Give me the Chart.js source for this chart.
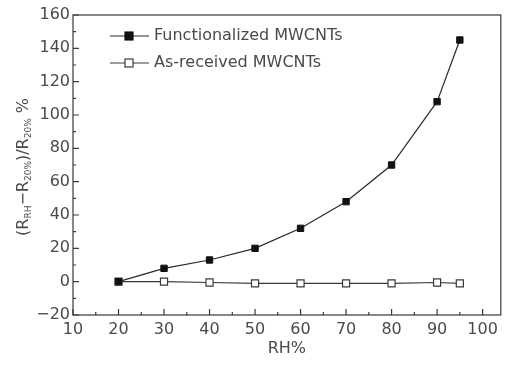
<!DOCTYPE html>
<html>
<head>
<meta charset="utf-8">
<script src="https://cdn.jsdelivr.net/npm/chart.js@4"></script>
<style>
  html, body { margin: 0; padding: 0; background: #fff; }
  #wrap { width: 507px; height: 365px; }
</style>
</head>
<body>
<div id="wrap"><canvas id="chart" width="507" height="365"></canvas></div>
<script>
// data
const rhValues = [20, 30, 40, 50, 60, 70, 80, 90, 95];
const functionalized = [0, 8, 13, 20, 32, 48, 70, 108, 145];
const asReceived = [0, 0, -0.5, -1, -1, -1, -1, -0.5, -1];
const xTicks = [10, 20, 30, 40, 50, 60, 70, 80, 90, 100];
const yTicks = [-20, 0, 20, 40, 60, 80, 100, 120, 140, 160];
const seriesNames = ["Functionalized MWCNTs", "As-received MWCNTs"];

const FONT = "'DejaVu Sans', sans-serif";
const TEXT = "#4a4a4a";
const AXIS = "#3a3a3a";

// frame, inside ticks, legend and axis titles
const extras = {
  id: "extras",
  afterDraw(chart) {
    const { ctx, chartArea: a, scales } = chart;
    const xs = scales.x, ys = scales.y;
    ctx.save();
    ctx.strokeStyle = AXIS;
    ctx.lineWidth = 1.2;
    ctx.strokeRect(a.left, a.top, a.right - a.left, a.bottom - a.top);

    // x ticks (major 10, minor 5), pointing up
    ctx.beginPath();
    for (let v = 10; v <= 100; v += 5) {
      const px = xs.getPixelForValue(v);
      const len = v % 10 === 0 ? 6 : 3;
      ctx.moveTo(px, a.bottom);
      ctx.lineTo(px, a.bottom - len);
    }
    // y ticks (major 20, minor 10), pointing right
    for (let v = -20; v <= 160; v += 10) {
      const py = ys.getPixelForValue(v);
      const len = v % 20 === 0 ? 6 : 3;
      ctx.moveTo(a.left, py);
      ctx.lineTo(a.left + len, py);
    }
    ctx.stroke();

    // legend
    chart.data.datasets.forEach((ds, i) => {
      const y = 36 + i * 27;
      ctx.strokeStyle = ds.borderColor;
      ctx.lineWidth = 1.2;
      ctx.beginPath();
      ctx.moveTo(110, y);
      ctx.lineTo(149, y);
      ctx.stroke();
      ctx.fillStyle = ds.pointBackgroundColor;
      ctx.strokeStyle = ds.pointBorderColor;
      ctx.fillRect(125, y - 4, 8, 8);
      ctx.strokeRect(125, y - 4, 8, 8);
      ctx.fillStyle = TEXT;
      ctx.font = "16px " + FONT;
      ctx.textBaseline = "middle";
      ctx.textAlign = "left";
      ctx.fillText(ds.label, 154, y);
    });

    // x title
    ctx.fillStyle = TEXT;
    ctx.font = "16px " + FONT;
    ctx.textAlign = "center";
    ctx.textBaseline = "middle";
    ctx.fillText("RH%", (a.left + a.right) / 2, 349);

    // y title with subscripts
    const parts = [
      ["(R", false], ["RH", true], ["\u2212R", false], ["20%", true],
      [")/R", false], ["20%", true], [" %", false]
    ];
    const big = "16px " + FONT, small = "9px " + FONT;
    let total = 0;
    parts.forEach(([t, sub]) => { ctx.font = sub ? small : big; total += ctx.measureText(t).width; });
    ctx.translate(22, (a.top + a.bottom) / 2 + 2);
    ctx.rotate(-Math.PI / 2);
    ctx.textAlign = "left";
    ctx.textBaseline = "alphabetic";
    let x = -total / 2;
    parts.forEach(([t, sub]) => {
      ctx.font = sub ? small : big;
      ctx.fillText(t, x, sub ? 9 : 6);
      x += ctx.measureText(t).width;
    });
    ctx.restore();
  }
};

const toPoints = ys => rhValues.map((x, i) => ({ x, y: ys[i] }));

new Chart(document.getElementById("chart"), {
  type: "line",
  data: {
    datasets: [
      {
        label: seriesNames[0],
        data: toPoints(functionalized),
        borderColor: "#2a2a2a",
        borderWidth: 1.2,
        pointStyle: "rect",
        pointRadius: 4.5,
        pointBackgroundColor: "#111",
        pointBorderColor: "#111",
        pointBorderWidth: 1,
      },
      {
        label: seriesNames[1],
        data: toPoints(asReceived),
        borderColor: "#3a3a3a",
        borderWidth: 1.2,
        pointStyle: "rect",
        pointRadius: 5,
        pointBackgroundColor: "#fff",
        pointBorderColor: "#3a3a3a",
        pointBorderWidth: 1.2,
      },
    ],
  },
  options: {
    responsive: false,
    animation: false,
    layout: { padding: { top: 15, right: 0, left: 0, bottom: 0 } },
    plugins: { legend: { display: false }, tooltip: { enabled: false } },
    scales: {
      x: {
        type: "linear",
        min: 10,
        max: 104,
        afterBuildTicks: s => { s.ticks = xTicks.map(v => ({ value: v })); },
        afterFit: s => { s.height = 50; },
        grid: { display: false, drawTicks: false },
        border: { display: false },
        ticks: { color: TEXT, font: { family: FONT, size: 16 }, padding: 5 },
      },
      y: {
        min: -20,
        max: 160,
        afterBuildTicks: s => { s.ticks = yTicks.map(v => ({ value: v })); },
        afterFit: s => { s.width = 73; },
        grid: { display: false, drawTicks: false },
        border: { display: false },
        ticks: {
          color: TEXT,
          font: { family: FONT, size: 16 },
          padding: 3,
          callback: v => String(v).replace("-", "\u2212"),
        },
      },
    },
  },
  plugins: [extras],
});
</script>
</body>
</html>
